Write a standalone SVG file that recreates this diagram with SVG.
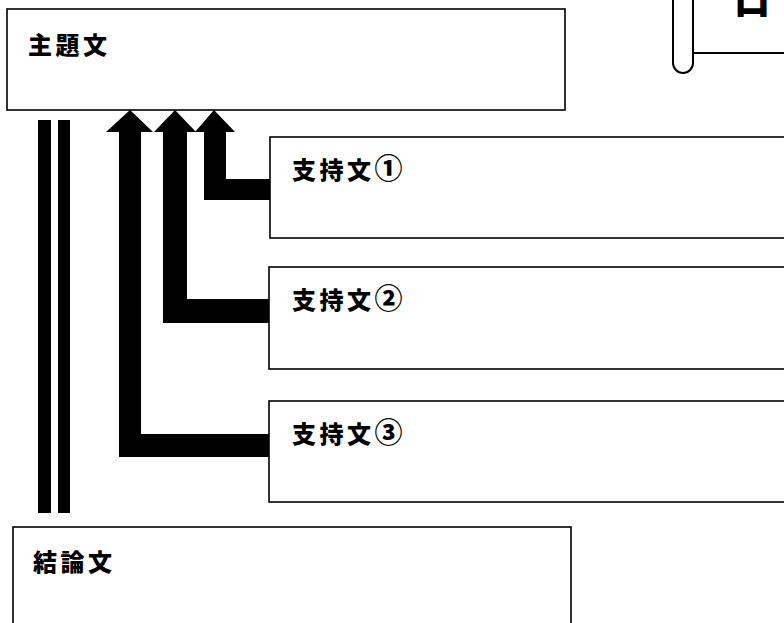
<svg xmlns="http://www.w3.org/2000/svg" width="784" height="623" viewBox="0 0 784 623">
<style>
.box{fill:#fff;stroke:#000;stroke-width:1.6}
.t{font-family:"Noto Sans CJK JP","Noto Sans CJK SC",sans-serif;font-weight:900;font-size:24px;letter-spacing:3.5px;fill:#000}
.n{font-size:28px}
.arrow{fill:#000;stroke:none}
.scroll{fill:#fff;stroke:#000;stroke-width:2}
</style>
<rect width="784" height="623" fill="#fff"/>
<g id="title-banner">
<path class="scroll" d="M693,-10 L693,53 L790,53"/>
<path class="scroll" d="M673,-10 L673,63 A10,10 0 0 0 693,63 L693,-10"/>
<text class="t" x="732" y="13" style="font-size:40px;letter-spacing:0">日</text>
</g>
<g id="connectors">
<rect class="arrow" x="38" y="120" width="13" height="393"/>
<rect class="arrow" x="58" y="120" width="12" height="393"/>
<path class="arrow" d="M130,110 L153,132 L141,132 L141,434 L269,434 L269,457 L119,457 L119,132 L106,132 Z"/>
<path class="arrow" d="M175,110 L196,132 L187,132 L187,299 L269,299 L269,323 L163,323 L163,132 L154,132 Z"/>
<path class="arrow" d="M214,110 L235,132 L226,132 L226,179 L270,179 L270,200 L204,200 L204,132 L195,132 Z"/>
</g>
<g id="topic">
<rect class="box" x="7" y="9" width="558" height="101"/>
<text class="t" x="28" y="54">主題文</text>
</g>
<g id="support1">
<rect class="box" x="270" y="137" width="530" height="101"/>
<text class="t" x="292" y="179">支持文<tspan class="n">①</tspan></text>
</g>
<g id="support2">
<rect class="box" x="269" y="267" width="530" height="102"/>
<text class="t" x="292" y="309">支持文<tspan class="n">②</tspan></text>
</g>
<g id="support3">
<rect class="box" x="269" y="401" width="530" height="101"/>
<text class="t" x="292" y="443">支持文<tspan class="n">③</tspan></text>
</g>
<g id="conclusion">
<rect class="box" x="13" y="527" width="558" height="110"/>
<text class="t" x="33" y="571">結論文</text>
</g>
</svg>
